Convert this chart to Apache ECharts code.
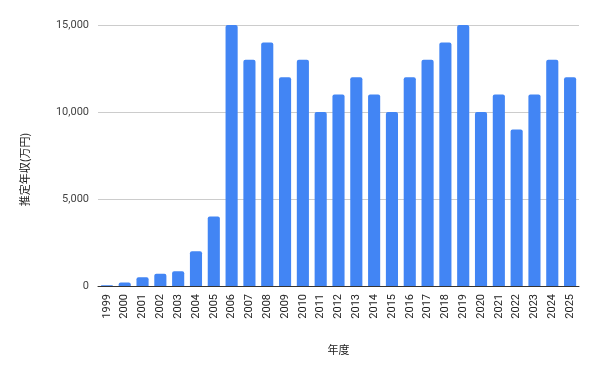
<!DOCTYPE html>
<html><head><meta charset="utf-8">
<script src="https://cdn.jsdelivr.net/npm/echarts@6/dist/echarts.min.js"></script>
<style>html,body{margin:0;padding:0;background:#fff}#c{width:601px;height:371px}</style>
</head><body><div id="c"></div>
<script>
const years = ['1999','2000','2001','2002','2003','2004','2005','2006','2007','2008','2009','2010','2011','2012','2013','2014','2015','2016','2017','2018','2019','2020','2021','2022','2023','2024','2025'];
const income = [50,200,500,700,850,2000,4000,15000,13000,14000,12000,13000,10000,11000,12000,11000,10000,12000,13000,14000,15000,10000,11000,9000,11000,13000,12000];
const yTicks = [0,5000,10000,15000];
const chart = echarts.init(document.getElementById('c'));
chart.setOption({
  animation:false,
  grid:{left:98,right:22,top:25,bottom:85},
  xAxis:{type:'category',data:years,name:'年度',nameLocation:'middle',nameGap:58,
    nameTextStyle:{color:'#222',fontSize:11,fontFamily:'Noto Sans CJK JP'},
    axisLine:{lineStyle:{color:'#333'}},axisTick:{show:false},
    axisLabel:{rotate:90,color:'#222',fontSize:11,fontFamily:'Roboto',interval:0,margin:8}},
  yAxis:{type:'value',min:yTicks[0],max:yTicks[yTicks.length-1],interval:yTicks[1]-yTicks[0],name:'推定年収(万円)',nameLocation:'middle',nameGap:68,
    nameTextStyle:{color:'#222',fontSize:11,fontFamily:'Noto Sans CJK JP',padding:[0,28,0,0]},
    axisLine:{show:false},axisTick:{show:false},
    axisLabel:{color:'#444',fontSize:11,fontFamily:'Roboto',margin:9,formatter:v=>v.toLocaleString('en-US')},
    splitLine:{lineStyle:{color:'#ccc'}}},
  series:[{type:'bar',data:income,barWidth:'68%',itemStyle:{color:'#4285F4',borderRadius:[2,2,0,0]}}]
});
</script></body></html>
